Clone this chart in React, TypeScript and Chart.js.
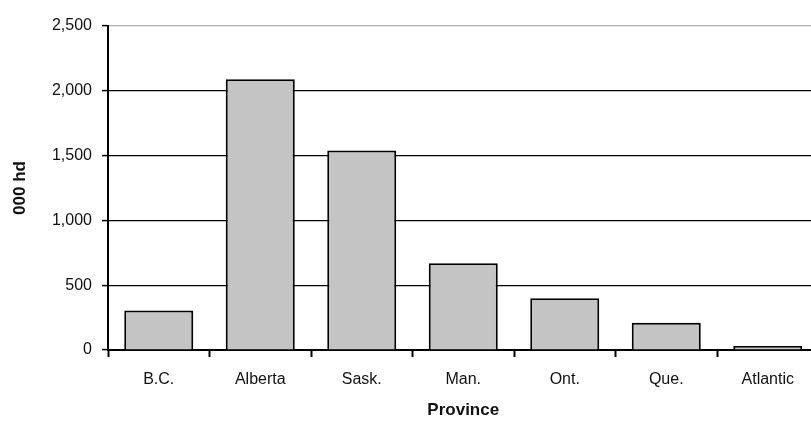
import React, { useEffect, useRef } from "react";
import { Chart, registerables } from "chart.js";

Chart.register(...registerables);

const categories = ["B.C.", "Alberta", "Sask.", "Man.", "Ont.", "Que.", "Atlantic"];
const values = [305, 2090, 1540, 670, 400, 210, 30];
const yTicks = [0, 500, 1000, 1500, 2000, 2500];

export default function App() {
  const ref = useRef<HTMLCanvasElement | null>(null);

  useEffect(() => {
    document.body.style.overflow = "hidden";
    const canvas = ref.current;
    if (!canvas) return;
    const font = "'Liberation Sans', Arial, sans-serif";
    const chart = new Chart(canvas, {
      type: "bar",
      data: {
        labels: categories,
        datasets: [
          {
            data: values,
            backgroundColor: "#c4c4c4",
            borderColor: "#000000",
            borderWidth: 2,
            barPercentage: 0.68,
            categoryPercentage: 1,
          },
        ],
      },
      options: {
        responsive: false,
        animation: false,
        devicePixelRatio: 1,
        layout: { padding: { top: 26, right: 11.5, bottom: 0, left: 0 } },
        plugins: { legend: { display: false }, tooltip: { enabled: false } },
        scales: {
          x: {
            grid: {
              display: true,
              drawOnChartArea: false,
              drawTicks: true,
              offset: true,
              tickLength: 7,
              tickColor: "#000",
              tickWidth: 2,
            },
            border: { display: true, color: "#000", width: 2 },
            ticks: { color: "#111", font: { family: font, size: 16 }, padding: 13 },
            title: {
              display: true,
              text: "Province",
              color: "#111",
              font: { family: font, size: 17, weight: "bold" },
              padding: { top: 0, bottom: 4 },
            },
            afterFit: (s: any) => {
              s.height = 75;
            },
          },
          y: {
            min: 0,
            max: 2500,
            afterBuildTicks: (s: any) => {
              s.ticks = yTicks.map((v) => ({ value: v }));
            },
            grid: {
              color: (ctx: any) => (ctx.tick && ctx.tick.value === 2500 ? "#b0b0b0" : "#000"),
              lineWidth: 1.2,
              tickLength: 6,
              tickColor: "#000",
              tickWidth: 1.5,
            },
            border: { display: true, color: "#000", width: 2 },
            ticks: {
              color: "#111",
              font: { family: font, size: 16 },
              padding: 10,
              callback: (v: any) => Number(v).toLocaleString("en-US"),
            },
            title: {
              display: true,
              text: "000 hd",
              color: "#111",
              font: { family: font, size: 17, weight: "bold" },
              padding: { top: 10, bottom: 0 },
            },
            afterFit: (s: any) => {
              s.width = 108;
            },
          },
        },
      },
    });
    return () => chart.destroy();
  }, []);

  return (
    <div style={{ position: "fixed", left: 0, top: 0, width: 830, height: 425, background: "#fff" }}>
      <canvas ref={ref} width={830} height={425} style={{ display: "block" }} />
    </div>
  );
}
